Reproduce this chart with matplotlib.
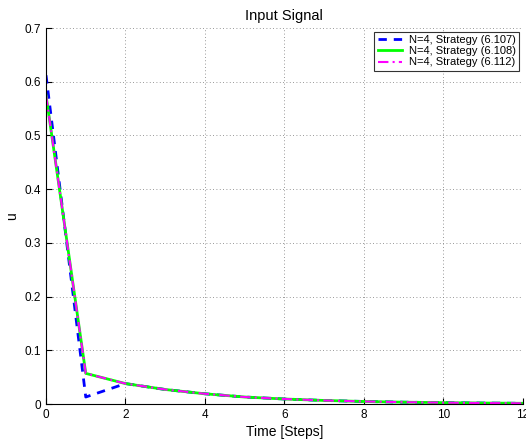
import matplotlib
matplotlib.use('Agg')
import matplotlib.pyplot as plt

plt.rcParams['font.family'] = ['Liberation Sans', 'DejaVu Sans']

steps = list(range(13))
u_6107 = [0.612, 0.013, 0.038, 0.027, 0.019, 0.013, 0.0093, 0.0066, 0.0047, 0.0034, 0.0025, 0.0018, 0.0013]
u_6108 = [0.575, 0.057, 0.038, 0.027, 0.019, 0.013, 0.0093, 0.0066, 0.0047, 0.0034, 0.0025, 0.0018, 0.0013]
u_6112 = [0.575, 0.057, 0.038, 0.027, 0.019, 0.013, 0.0093, 0.0066, 0.0047, 0.0034, 0.0025, 0.0018, 0.0013]
labels = ['N=4, Strategy (6.107)', 'N=4, Strategy (6.108)', 'N=4, Strategy (6.112)']

fig = plt.figure(figsize=(5.26, 4.41), dpi=100)
ax = fig.add_axes([0.0875, 0.0839, 0.9065, 0.8526])

ax.plot(steps, u_6107, color='blue', linestyle=(0, (3, 2.5)), linewidth=2, label=labels[0])
ax.plot(steps, u_6108, color='#00ff00', linestyle='-', linewidth=2, label=labels[1])
ax.plot(steps, u_6112, color='magenta', linestyle=(0, (5, 2, 1, 2)), linewidth=1.5, label=labels[2])

ax.set_xlim(0, 12)
ax.set_ylim(0, 0.7)
ax.set_xticks(range(0, 13, 2))
ax.set_yticks([i / 10 for i in range(8)])
ax.set_yticklabels(['0', '0.1', '0.2', '0.3', '0.4', '0.5', '0.6', '0.7'])
ax.tick_params(direction='in', labelsize=8.5, length=4)
ax.spines['top'].set_visible(False)
ax.spines['right'].set_visible(False)
ax.grid(True, linestyle=(0, (1, 3)), color='#777777', linewidth=0.6)

ax.set_title('Input Signal', fontsize=10.5, pad=6)
ax.set_xlabel('Time [Steps]', fontsize=10, labelpad=3)
ax.set_ylabel('u', fontsize=10, labelpad=4)

leg = ax.legend(loc='upper right', fontsize=8, frameon=True, fancybox=False,
                edgecolor='black', borderpad=0.3, labelspacing=0.1,
                handlelength=2.2, handletextpad=0.6, borderaxespad=0.35)
leg.get_frame().set_linewidth(0.8)

fig.savefig('out.png', dpi=100)
